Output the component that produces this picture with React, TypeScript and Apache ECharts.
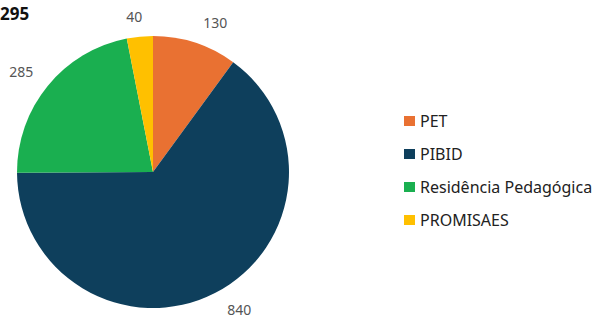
import React, { useEffect, useRef } from "react";
import * as echarts from "echarts";

const categories = ["PET", "PIBID", "Residência Pedagógica", "PROMISAES"];
const values = [130, 840, 285, 40];
const colors = ["#E97132", "#0E3F5C", "#1AAF50", "#FFC000"];
const totalLabel = "295";
const labelOffsets = [[-4, -5], [-2, 2], [5, -4], [11, -4]];

export default function App() {
  const ref = useRef<HTMLDivElement>(null);
  useEffect(() => {
    if (!ref.current) return;
    const chart = echarts.init(ref.current, undefined, { renderer: "svg" });
    const font = "Noto Sans";
    chart.setOption({
      animation: false,
      textStyle: { fontFamily: font },
      graphic: [
        {
          type: "text",
          x: 0,
          y: 5,
          style: {
            text: totalLabel,
            fontFamily: font,
            fontWeight: "bold",
            fontSize: 17,
            fill: "#111",
          },
        },
      ],
      legend: {
        orient: "vertical",
        left: 399,
        top: 105,
        itemWidth: 11,
        itemHeight: 10,
        itemGap: 11,
        icon: "rect",
        textStyle: { fontFamily: font, fontSize: 16, color: "#222", lineHeight: 22 },
        data: categories,
      },
      series: [
        {
          type: "pie",
          center: [153, 172],
          radius: 136,
          startAngle: 90,
          clockwise: true,
          color: colors,
          label: {
            show: true,
            position: "outside",
            formatter: "{c}",
            fontFamily: font,
            fontSize: 14,
            color: "#555",
            overflow: "none",
          },
          labelLine: { show: false, length: 16, length2: 2 },
          itemStyle: { borderWidth: 0 },
          emphasis: { disabled: true },
          data: categories.map((name, i) => ({
            name,
            value: values[i],
            label: { offset: labelOffsets[i] },
          })),
        },
      ],
    });
    return () => chart.dispose();
  }, []);
  return <div ref={ref} style={{ width: 594, height: 317, position: "absolute", left: 0, top: 0 }} />;
}
